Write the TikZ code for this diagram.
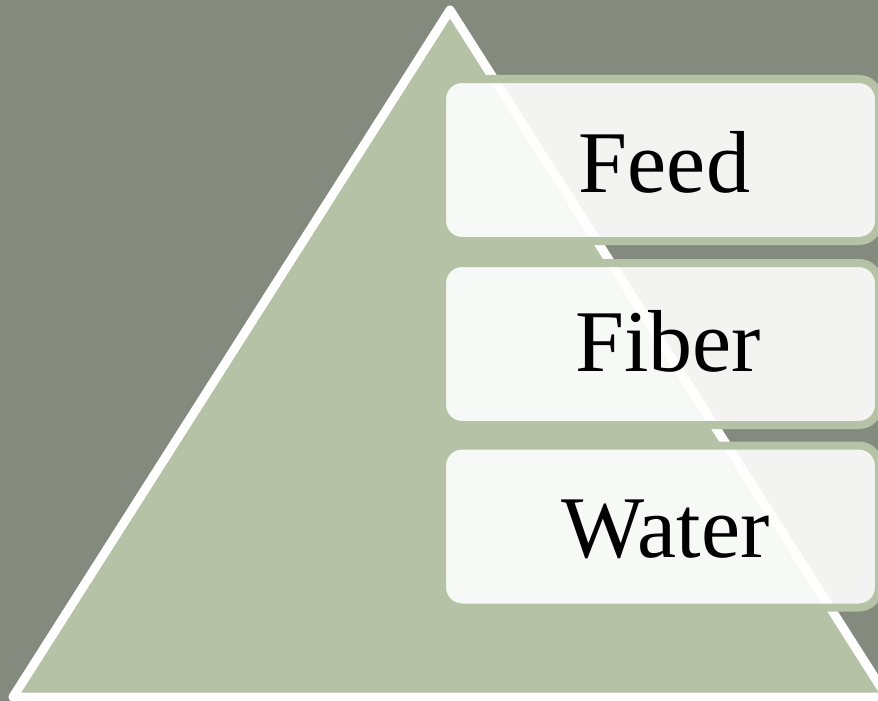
\documentclass[tikz,border=0pt]{standalone}
\usepackage{fontspec}
\setmainfont{Liberation Serif}
\definecolor{slate}{HTML}{858A7E}
\definecolor{sage}{HTML}{B5C2A5}
\begin{document}
\begin{tikzpicture}[x=1pt,y=-1pt,
  tier/.style={draw=sage, line width=8pt, fill=white, fill opacity=0.9,
    text opacity=1, text=black, rounded corners=20pt,
    minimum width=437pt, minimum height=162pt, inner sep=0pt,
    font=\fontsize{88}{90}\selectfont},
  word/.style={text=black, inner sep=0pt, text height=60pt, text depth=0pt,
    font=\fontsize{88}{90}\selectfont}]
\useasboundingbox (0,0) rectangle (878,701);
\fill[slate] (0,0) rectangle (878,701);
\begin{scope}
  \clip (0,0) rectangle (878,701);
  % pyramid
  \coordinate (apex) at (450,10);
  \coordinate (bl) at (13,697);
  \coordinate (br) at (887,697);
  \draw[white, line width=9pt, line join=round, fill=sage]
    (apex) -- (br) -- (bl) -- cycle;
  % three tiers
  \node[tier] (feed)  at (660.5,160) {};
  \node[tier] (fiber) at (660.5,344) {};
  \node[tier] (water) at (660.5,526.5) {};
  \node[word, anchor=base] (tfeed)  at (664.5,192) {Feed};
  \node[word, anchor=base] (tfiber) at (668,371) {Fiber};
  \node[word, anchor=base] (twater) at (665.5,557) {Water};
\end{scope}
\end{tikzpicture}
\end{document}
